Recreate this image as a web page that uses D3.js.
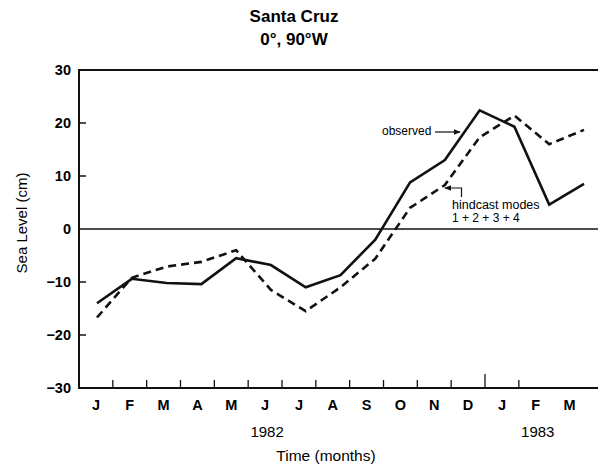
<!DOCTYPE html>
<html>
<head>
<meta charset="utf-8">
<script src="https://cdn.jsdelivr.net/npm/d3@7"></script>
<style>
  body { margin: 0; background: #fff; }
  text { font-family: "Liberation Sans", Arial, sans-serif; fill: #000; }
</style>
</head>
<body>
<svg></svg>
<script>
const width = 598;
const height = 467;
const svg = d3.select("svg").attr("width", width).attr("height", height);

// data (cm), Jan 1982 .. Mar 1983
const months = ["J", "F", "M", "A", "M", "J", "J", "A", "S", "O", "N", "D", "J", "F", "M"];
const observed = [-14.0, -9.4, -10.2, -10.4, -5.5, -6.8, -11.0, -8.7, -2.0, 8.8, 13.0, 22.4, 19.3, 4.6, 8.5];
const hindcast = [-16.7, -9.2, -7.1, -6.2, -4.0, -11.5, -15.5, -11.0, -5.6, 4.0, 8.3, 17.3, 21.4, 16.0, 18.7];
const yTicks = [-30, -20, -10, 0, 10, 20, 30];
const years = [{ label: "1982", at: 5 }, { label: "1983", at: 13 }];

const plotLeft = 79, plotTop = 70, plotBottom = 388, plotRight = 598;

const y = d3.scaleLinear().domain([-30, 30]).range([plotBottom, plotTop]);
// month bands for axis labels / ticks
const band = d3.scaleBand().domain(d3.range(months.length)).range([plotLeft, 586.5]);
// data points are plotted a little wider than the month bands in the original
const x = d3.scaleLinear().domain([0, months.length - 1]).range([97, 584]);

const g = svg.append("g");

// frame: left axis, top and bottom lines, zero line
g.append("line").attr("x1", plotLeft).attr("x2", plotLeft).attr("y1", plotTop).attr("y2", plotBottom)
  .attr("stroke", "#111").attr("stroke-width", 2);
[30, -30].forEach(v => {
  g.append("line").attr("x1", plotLeft - 1).attr("x2", plotRight).attr("y1", y(v)).attr("y2", y(v))
    .attr("stroke", "#111").attr("stroke-width", 2);
});
g.append("line").attr("x1", plotLeft).attr("x2", plotRight).attr("y1", y(0)).attr("y2", y(0))
  .attr("stroke", "#111").attr("stroke-width", 1.6);

// y ticks (inward) and labels
g.selectAll(".ytick").data(yTicks.filter(d => Math.abs(d) < 30 && d !== 0)).enter()
  .append("line")
  .attr("x1", plotLeft).attr("x2", plotLeft + 7)
  .attr("y1", d => y(d)).attr("y2", d => y(d))
  .attr("stroke", "#111").attr("stroke-width", 1.5);
g.selectAll(".ylab").data(yTicks).enter()
  .append("text")
  .attr("x", 71).attr("y", d => y(d)).attr("dy", "0.36em")
  .attr("text-anchor", "end")
  .attr("font-size", 14.5).attr("font-weight", "bold")
  .text(d => d < 0 ? "\u2212" + Math.abs(d) : d);

// x ticks at month boundaries (pointing up), taller at the year change
g.selectAll(".xtick").data(d3.range(1, months.length - 1)).enter()
  .append("line")
  .attr("x1", d => band(d)).attr("x2", d => band(d))
  .attr("y1", plotBottom).attr("y2", d => d === 12 ? plotBottom - 14 : plotBottom - 8)
  .attr("stroke", "#111").attr("stroke-width", 1.3);
g.selectAll(".xlab").data(months).enter()
  .append("text")
  .attr("x", (d, i) => band(i) + band.bandwidth() / 2)
  .attr("y", 410)
  .attr("text-anchor", "middle")
  .attr("font-size", 14.5).attr("font-weight", "bold")
  .text(d => d);
g.selectAll(".year").data(years).enter()
  .append("text")
  .attr("x", d => band(d.at) + band.bandwidth() / 2 + 2)
  .attr("y", 437)
  .attr("text-anchor", "middle")
  .attr("font-size", 15)
  .text(d => d.label);

// axis titles
svg.append("text").attr("x", 326).attr("y", 461).attr("text-anchor", "middle")
  .attr("font-size", 15.5).text("Time (months)");
svg.append("text").attr("transform", "translate(27,223) rotate(-90)")
  .attr("text-anchor", "middle").attr("font-size", 15).text("Sea Level (cm)");

// title
svg.append("text").attr("x", 294).attr("y", 22).attr("text-anchor", "middle")
  .attr("font-size", 17).attr("font-weight", "bold").text("Santa Cruz");
svg.append("text").attr("x", 294).attr("y", 45).attr("text-anchor", "middle")
  .attr("font-size", 17).attr("font-weight", "bold").text("0°, 90°W");

// series
const line = d3.line().x((d, i) => x(i)).y(d => y(d));
g.append("path").datum(hindcast).attr("d", line)
  .attr("fill", "none").attr("stroke", "#111").attr("stroke-width", 2.6)
  .attr("stroke-dasharray", "8,5");
g.append("path").datum(observed).attr("d", line)
  .attr("fill", "none").attr("stroke", "#111").attr("stroke-width", 2.6)
  .attr("stroke-linejoin", "miter");

// annotations
svg.append("defs").append("marker")
  .attr("id", "arr").attr("viewBox", "0 0 10 10").attr("refX", 9).attr("refY", 5)
  .attr("markerWidth", 6).attr("markerHeight", 6).attr("orient", "auto")
  .append("path").attr("d", "M0,1 L10,5 L0,9 Z").attr("fill", "#111");

svg.append("text").attr("x", 382).attr("y", 135).attr("font-size", 12).text("observed");
svg.append("line").attr("x1", 435).attr("x2", 460).attr("y1", 132).attr("y2", 132)
  .attr("stroke", "#111").attr("stroke-width", 1.2).attr("marker-end", "url(#arr)");

svg.append("path").attr("d", "M461.5,197 L461.5,188 L445,188")
  .attr("fill", "none").attr("stroke", "#111").attr("stroke-width", 1.2)
  .attr("marker-end", "url(#arr)");
svg.append("text").attr("x", 452).attr("y", 209).attr("font-size", 12.5).text("hindcast modes");
svg.append("text").attr("x", 452).attr("y", 222).attr("font-size", 12).text("1 + 2 + 3 + 4");
</script>
</body>
</html>
